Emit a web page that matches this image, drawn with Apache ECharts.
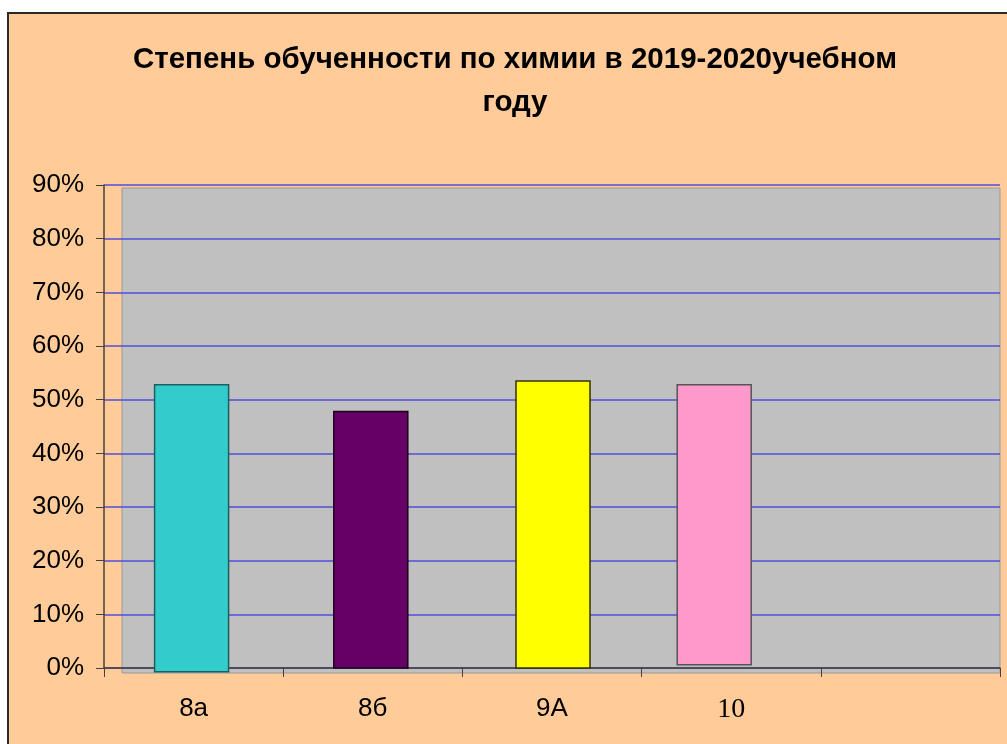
<!DOCTYPE html>
<html>
<head>
<meta charset="utf-8">
<script src="https://cdn.jsdelivr.net/npm/echarts@6/dist/echarts.min.js"></script>
<style>
  html, body { margin: 0; padding: 0; background: #fff; }
  #frame { position: absolute; left: 7px; top: 12px; width: 1000px; height: 732px;
           background: #FFCC99; border-top: 2px solid #2a2a2a; border-left: 2px solid #2a2a2a; box-sizing: border-box; }
  #chart { position: absolute; left: 0; top: 0; width: 1007px; height: 744px; }
</style>
</head>
<body>
<div id="frame"></div>
<div id="chart"></div>
<script>
  'use strict'

  /*-----data-----*/
  var categories = ['8а', '8б', '9А', '10', ''];
  var values = [0.528, 0.478, 0.535, 0.528];
  var bases = [-0.007, 0, 0, 0.006];
  var yTicks = [0, 0.1, 0.2, 0.3, 0.4, 0.5, 0.6, 0.7, 0.8, 0.9];

  var barColors = ['#33CCCC', '#660066', '#FFFF00', '#FF99CC'];
  var barBorders = ['#1d5f5f', '#1a001a', '#333300', '#555555'];
  var barShift = [-2, -2, 1, -17];

  var barData = values.map(function (v, i) {
    return [i, bases[i], v];
  });

  var chart = echarts.init(document.getElementById('chart'));

  var option = {
    backgroundColor: 'transparent',
    animation: false,
    title: {
      text: 'Степень обученности по химии в 2019-2020учебном\nгоду',
      left: 510,
      top: 33,
      textAlign: 'center',
      textStyle: {
        fontFamily: 'Liberation Sans',
        fontWeight: 'bold',
        fontSize: 29.5,
        lineHeight: 43,
        color: '#000'
      }
    },
    graphic: [
      {
        type: 'rect',
        z: -1,
        shape: { x: 122, y: 188, width: 878, height: 485 },
        style: { fill: '#C0C0C0', stroke: '#999', lineWidth: 1 }
      }
    ],
    grid: {
      left: 104,
      right: 7,
      top: 185,
      bottom: 76
    },
    xAxis: {
      type: 'category',
      data: categories,
      axisLine: { lineStyle: { color: '#4a4038', width: 1.5 } },
      axisTick: { show: true, length: 9, lineStyle: { color: '#4a4038' } },
      axisLabel: {
        margin: 28,
        fontFamily: 'Liberation Sans',
        fontSize: 26,
        color: '#000',
        formatter: function (v) {
          return v === '10' ? '{s|10}' : v;
        },
        rich: {
          s: { fontFamily: 'Liberation Serif', fontSize: 28, color: '#000' }
        }
      }
    },
    yAxis: {
      type: 'value',
      min: 0,
      max: 0.9,
      interval: 0.1,
      axisLine: { show: true, lineStyle: { color: '#4a4038', width: 1.5 } },
      axisTick: { show: true, inside: false, length: 8, lineStyle: { color: '#4a4038' } },
      splitLine: { lineStyle: { color: '#4F4FD8', width: 1.6 } },
      axisLabel: {
        margin: 20,
        fontFamily: 'Liberation Sans',
        fontSize: 26,
        color: '#000',
        customValues: yTicks,
        formatter: function (v) {
          return Math.round(v * 100) + '%';
        }
      }
    },
    series: [
      {
        type: 'custom',
        data: barData,
        encode: { x: 0, y: [1, 2] },
        clip: false,
        renderItem: function (params, api) {
          var i = params.dataIndex;
          var top = api.coord([api.value(0), api.value(2)]);
          var bot = api.coord([api.value(0), api.value(1)]);
          var w = 74;
          return {
            type: 'rect',
            shape: { x: top[0] - w / 2 + barShift[i], y: top[1], width: w, height: bot[1] - top[1] },
            style: { fill: barColors[i], stroke: barBorders[i], lineWidth: 1.5 }
          };
        }
      }
    ]
  };

  chart.setOption(option);
</script>
</body>
</html>
